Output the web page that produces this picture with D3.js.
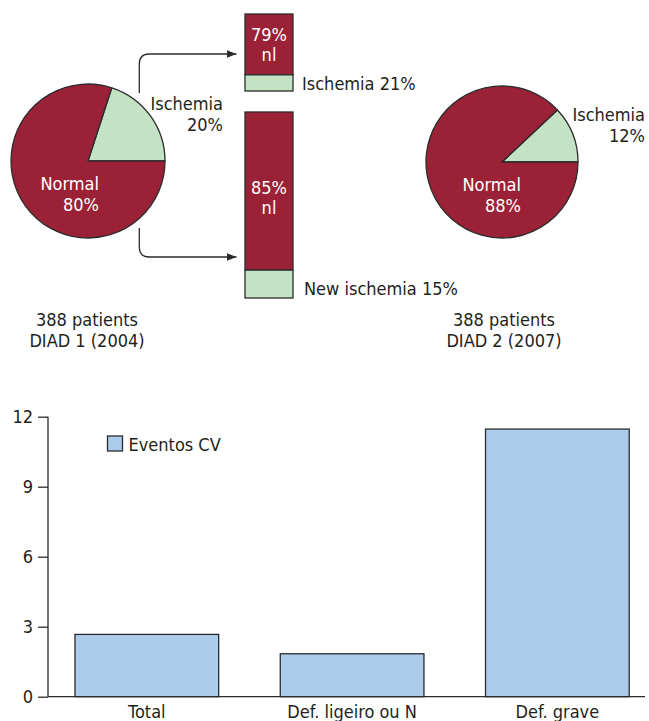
<!DOCTYPE html>
<html>
<head>
<meta charset="utf-8">
<script src="https://cdn.jsdelivr.net/npm/d3@7"></script>
<style>
  html, body { margin: 0; padding: 0; background: #fff; }
  svg text { font-family: "DejaVu Sans Condensed", "Liberation Sans Narrow", "Arial Narrow", sans-serif; fill: #231f20; }
</style>
</head>
<body>
<svg id="chart" width="649" height="721"></svg>
<script>
// ---- Data ----
const pie1Labels = ["Ischemia", "Normal"];
const pie1Values = [20, 80];
const pie2Labels = ["Ischemia", "Normal"];
const pie2Values = [12, 88];
const stackTopLabels = ["79%", "Ischemia 21%"];
const stackTopValues = [79, 21];
const stackBottomLabels = ["85%", "New ischemia 15%"];
const stackBottomValues = [85, 15];
const cohortLabels = [["388 patients", "DIAD 1 (2004)"], ["388 patients", "DIAD 2 (2007)"]];

const barCategories = ["Total", "Def. ligeiro ou N", "Def. grave"];
const barValues = [2.67, 1.84, 11.47];
const barSeriesName = "Eventos CV";
const yTicks = [0, 3, 6, 9, 12];

// ---- Styles ----
const MAROON = "#9b2236";
const GREEN = "#c4e2c4";
const BLUE = "#abcdeb";
const STROKE = "#2b2b2b";
const FS = 18;

const svg = d3.select("#chart");

// defs: arrowhead
svg.append("defs").append("marker")
  .attr("id", "arrow").attr("viewBox", "0 0 10 8")
  .attr("refX", 10).attr("refY", 4)
  .attr("markerWidth", 10).attr("markerHeight", 8)
  .attr("markerUnits", "userSpaceOnUse")
  .attr("orient", "auto")
  .append("path").attr("d", "M0,0 L10,4 L0,8 Z").attr("fill", STROKE);

// ---- Pies ----
function drawPie(cx, cy, r, values, labelsCfg) {
  const g = svg.append("g").attr("transform", `translate(${cx},${cy})`);
  const isch = values[0] / d3.sum(values);
  const start = Math.PI / 2 - isch * 2 * Math.PI;
  const pie = d3.pie().sort(null).startAngle(start).endAngle(start + 2 * Math.PI);
  const arc = d3.arc().innerRadius(0).outerRadius(r);
  g.selectAll("path").data(pie(values)).join("path")
    .attr("d", arc)
    .attr("fill", (d, i) => i === 0 ? GREEN : MAROON)
    .attr("stroke", STROKE).attr("stroke-width", 1.3)
    .attr("stroke-linejoin", "round");
  labelsCfg.forEach(c => {
    const t = g.append("text").attr("text-anchor", "end")
      .attr("font-size", FS).style("fill", c.fill || "#231f20");
    c.lines.forEach((ln, k) => t.append("tspan").attr("x", c.x).attr("y", c.y + k * 21).text(ln));
  });
}

drawPie(88, 161, 77, pie1Values, [
  { x: 135, y: -51, lines: [pie1Labels[0], pie1Values[0] + "%"] },
  { x: 11, y: 29, lines: [pie1Labels[1], pie1Values[1] + "%"], fill: "#fff" }
]);
drawPie(502, 162, 76, pie2Values, [
  { x: 143, y: -41, lines: [pie2Labels[0], pie2Values[0] + "%"] },
  { x: 19, y: 29, lines: [pie2Labels[1], pie2Values[1] + "%"], fill: "#fff" }
]);

// ---- Stacked bars ----
function drawStack(x0, width, y0, y1, values, labels) {
  const y = d3.scaleLinear().domain([0, d3.sum(values)]).range([y0, y1]);
  const g = svg.append("g");
  let acc = 0;
  values.forEach((v, i) => {
    g.append("rect")
      .attr("x", x0).attr("width", width)
      .attr("y", y(acc)).attr("height", y(acc + v) - y(acc))
      .attr("fill", i === 0 ? MAROON : GREEN)
      .attr("stroke", STROKE).attr("stroke-width", 1.3);
    acc += v;
  });
  const t = g.append("text").attr("text-anchor", "middle").attr("font-size", FS).style("fill", "#fff");
  t.append("tspan").attr("x", x0 + width / 2).attr("y", labels.innerY).text(labels.inner);
  t.append("tspan").attr("x", x0 + width / 2).attr("y", labels.innerY + 20).text("nl");
  g.append("text").attr("x", x0 + width + labels.sideDx).attr("y", labels.sideY)
    .attr("font-size", FS).text(labels.side);
}
drawStack(245, 48, 14, 91, stackTopValues, { inner: stackTopLabels[0], innerY: 41, side: stackTopLabels[1], sideDx: 9, sideY: 90 });
drawStack(245, 48, 112, 298, stackBottomValues, { inner: stackBottomLabels[0], innerY: 194, side: stackBottomLabels[1], sideDx: 11, sideY: 295 });

// ---- Arrows ----
const ax = 139.3, rr = 10;
svg.append("path")
  .attr("d", `M${ax},93 L${ax},${54 + rr} Q${ax},54 ${ax + rr},54 L236.5,54`)
  .attr("fill", "none").attr("stroke", STROKE).attr("stroke-width", 1.3)
  .attr("marker-end", "url(#arrow)");
svg.append("path")
  .attr("d", `M${ax},228 L${ax},${257 - rr} Q${ax},257 ${ax + rr},257 L236.5,257`)
  .attr("fill", "none").attr("stroke", STROKE).attr("stroke-width", 1.3)
  .attr("marker-end", "url(#arrow)");

// ---- Cohort labels ----
[[87, cohortLabels[0]], [504, cohortLabels[1]]].forEach(([cx, lines]) => {
  const t = svg.append("text").attr("text-anchor", "middle").attr("font-size", FS);
  lines.forEach((ln, k) => t.append("tspan").attr("x", cx).attr("y", 326 + k * 21).text(ln));
});

// ---- Bar chart ----
const y = d3.scaleLinear().domain([0, 12]).range([696.7, 416.7]);
const x = d3.scaleBand().domain(barCategories).range([44.2, 660]).paddingInner(0.3).paddingOuter(0.15);

const yAxis = svg.append("g").attr("transform", "translate(48,0)")
  .call(d3.axisLeft(y).tickValues(yTicks).tickSize(10).tickPadding(5));
yAxis.select(".domain").remove();
yAxis.selectAll(".tick line").attr("stroke", STROKE).attr("stroke-width", 1.3);
yAxis.selectAll(".tick text").attr("font-size", FS).attr("font-family", null).style("fill", "#231f20");

svg.selectAll("rect.bar").data(barValues).join("rect").attr("class", "bar")
  .attr("x", (d, i) => x(barCategories[i]))
  .attr("width", x.bandwidth())
  .attr("y", d => y(d))
  .attr("height", d => y(0) - y(d))
  .attr("fill", BLUE).attr("stroke", STROKE).attr("stroke-width", 1.3);

svg.append("line").attr("x1", 48).attr("x2", 48).attr("y1", y(12)).attr("y2", y(0))
  .attr("stroke", STROKE).attr("stroke-width", 1.3);
svg.append("line").attr("x1", 48).attr("x2", 645).attr("y1", y(0)).attr("y2", y(0))
  .attr("stroke", STROKE).attr("stroke-width", 1.3);

const xAxis = svg.append("g").attr("transform", `translate(0,${y(0)})`)
  .call(d3.axisBottom(x).tickSize(0).tickPadding(9));
xAxis.select(".domain").remove();
xAxis.selectAll(".tick text").attr("font-size", FS).attr("font-family", null).style("fill", "#231f20");

// legend
const lg = svg.append("g").attr("transform", "translate(107.5,436)");
lg.append("rect").attr("width", 15).attr("height", 15).attr("fill", BLUE)
  .attr("stroke", STROKE).attr("stroke-width", 1.3);
lg.append("text").attr("x", 21).attr("y", 14.5).attr("font-size", FS).text(barSeriesName);
</script>
</body>
</html>
